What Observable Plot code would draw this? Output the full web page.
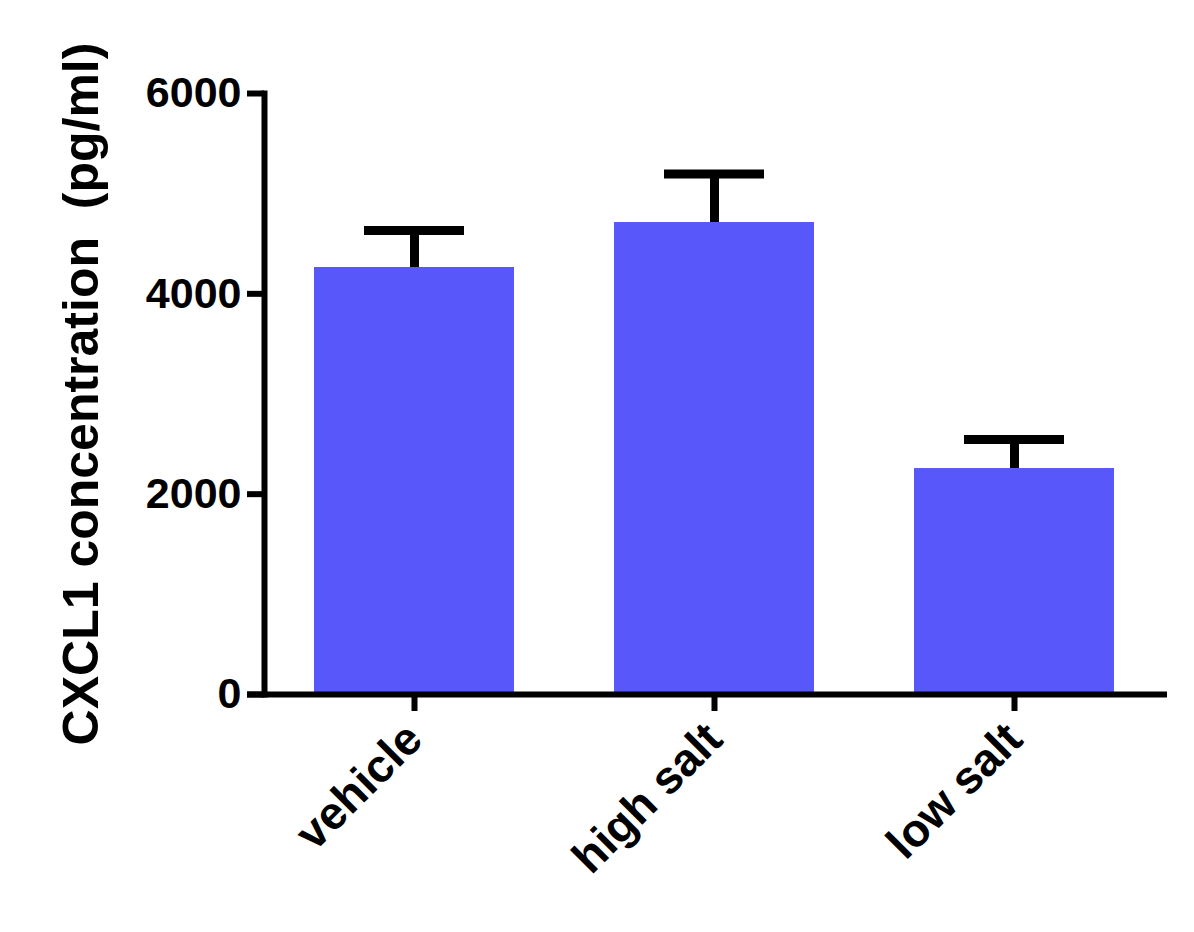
<!DOCTYPE html>
<html>
<head>
<meta charset="utf-8">
<script src="https://cdn.jsdelivr.net/npm/d3@7"></script>
<script src="https://cdn.jsdelivr.net/npm/@observablehq/plot@0.6"></script>
<style>
  html, body { margin: 0; padding: 0; background: #fff; }
  #chart svg { display: block; }
</style>
</head>
<body>
<div id="chart"></div>
<script>
const groups = ["vehicle", "high salt", "low salt"];
const means = [4263, 4712, 2256];
const uppers = [4632, 5196, 2546];
const yTicks = [0, 2000, 4000, 6000];
const yLabel = "CXCL1 concentration  (pg/ml)";

const data = groups.map((g, i) => ({group: g, mean: means[i], upper: uppers[i]}));

const chart = Plot.plot({
  width: 1194,
  height: 932,
  marginLeft: 264,
  marginRight: 30,
  marginTop: 93,
  marginBottom: 238,
  style: {fontFamily: "'Liberation Sans', Arial, sans-serif", fontWeight: "bold", color: "#000", background: "#fff"},
  x: {domain: groups, paddingInner: 1/3, paddingOuter: 1/6},
  y: {domain: [0, 6000]},
  marks: [
    Plot.barY(data, {x: "group", y: "mean", fill: "#5858FA"}),
    Plot.ruleX(data, {x: "group", y1: "mean", y2: "upper", stroke: "#000", strokeWidth: 9}),
    Plot.tickY(data, {x: "group", y: "upper", stroke: "#000", strokeWidth: 9, inset: 50}),
    Plot.axisY({
      ticks: yTicks,
      tickFormat: d => String(d),
      tickSize: 17,
      tickPadding: 6,
      strokeWidth: 6,
      fontSize: 43,
      fontWeight: "bold",
      label: yLabel,
      labelAnchor: "center",
      labelOffset: 202,
      labelArrow: "none"
    }),
    Plot.axisX({
      tickSize: 17,
      strokeWidth: 6,
      tickRotate: -45,
      tickPadding: 20,
      fontSize: 46,
      fontWeight: "bold",
      label: null
    }),
    Plot.frame({anchor: "left", stroke: "#000", strokeWidth: 6}),
    Plot.ruleY([0], {stroke: "#000", strokeWidth: 6, insetLeft: -17, insetRight: -3})
  ]
});

chart.querySelectorAll("g[aria-label='y-axis label'] text").forEach(t => {
  t.setAttribute("font-size", "50");
});
document.getElementById("chart").appendChild(chart);
</script>
</body>
</html>
